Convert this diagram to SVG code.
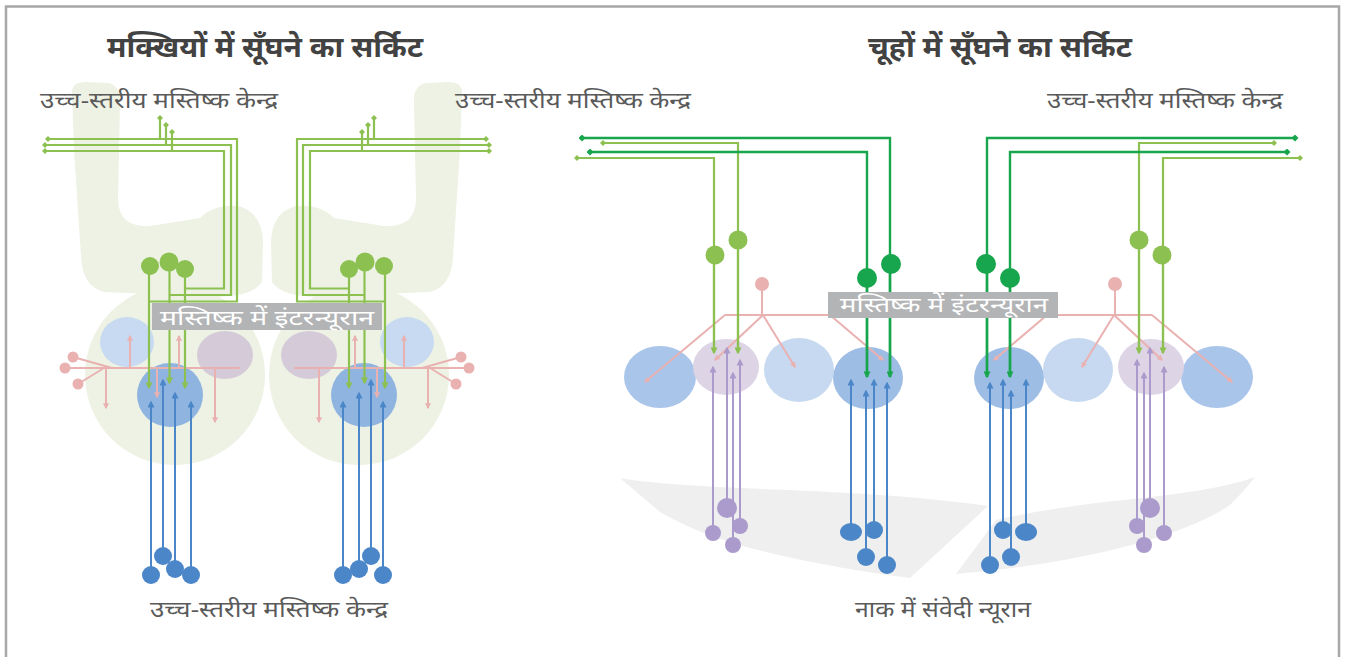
<svg xmlns="http://www.w3.org/2000/svg" xmlns:xlink="http://www.w3.org/1999/xlink" width="1345" height="657" viewBox="0 0 1345 657">
  <style>
    .txt { font-family: "Noto Sans", "DejaVu Sans", sans-serif; fill: #5a5a5a; }
    .lbl { font-size: 22px; }
    .ttl { font-size: 28px; font-weight: bold; fill: #424242; }
    .boxt { font-size: 21px; fill: #ffffff; }
    .box { fill: #b3b4b6; }
    .lg { stroke: #8cc152; stroke-width: 2.2; fill: none; }
    .dg { stroke: #17a64d; stroke-width: 2.4; fill: none; }
    .bl { stroke: #4a86c8; stroke-width: 2; fill: none; }
    .pu { stroke: #ab9bcc; stroke-width: 2; fill: none; }
    .pk { stroke: #eab1b1; stroke-width: 2; fill: none; }
    .lgf { fill: #8cc152; }
    .dgf { fill: #17a64d; }
    .blf { fill: #4a86c8; }
    .puf { fill: #ab9bcc; }
    .pkf { fill: #eab1b1; }
    .pale { fill: #edf2e4; }
    .epi { fill: #efefef; }
  </style>
  <defs>
    <marker id="aLG" viewBox="0 0 10 10" refX="8" refY="5" markerWidth="7" markerHeight="7" markerUnits="userSpaceOnUse" orient="auto"><path d="M0,0 L10,5 L0,10 Z" fill="#8cc152"/></marker>
    <marker id="aDG" viewBox="0 0 10 10" refX="8" refY="5" markerWidth="7" markerHeight="7" markerUnits="userSpaceOnUse" orient="auto"><path d="M0,0 L10,5 L0,10 Z" fill="#17a64d"/></marker>
    <marker id="aBL" viewBox="0 0 10 10" refX="8" refY="5" markerWidth="7" markerHeight="7" markerUnits="userSpaceOnUse" orient="auto"><path d="M0,0 L10,5 L0,10 Z" fill="#4a86c8"/></marker>
    <marker id="aPU" viewBox="0 0 10 10" refX="8" refY="5" markerWidth="7" markerHeight="7" markerUnits="userSpaceOnUse" orient="auto"><path d="M0,0 L10,5 L0,10 Z" fill="#ab9bcc"/></marker>
    <marker id="aPK" viewBox="0 0 10 10" refX="8" refY="5" markerWidth="6" markerHeight="6" markerUnits="userSpaceOnUse" orient="auto"><path d="M0,0 L10,5 L0,10 Z" fill="#eab1b1"/></marker>
    <marker id="dLG" viewBox="0 0 10 10" refX="5" refY="5" markerWidth="6" markerHeight="6" markerUnits="userSpaceOnUse" orient="auto"><path d="M0,5 L5,0 L10,5 L5,10 Z" fill="#8cc152"/></marker>
    <marker id="dDG" viewBox="0 0 10 10" refX="5" refY="5" markerWidth="7" markerHeight="7" markerUnits="userSpaceOnUse" orient="auto"><path d="M0,5 L5,0 L10,5 L5,10 Z" fill="#17a64d"/></marker>
  </defs>

  <!-- outer frame -->
  <rect x="6" y="6.5" width="1333" height="680" fill="none" stroke="#a7a7a7" stroke-width="2.5"/>

  <!-- ============ fly circuit: one half, mirrored for the other ============ -->
  <g id="fly-half">
    <path class="pale" d="M72,92 Q72,82 86,82 L108,83 Q121,86 120,102 L118,200 Q119,228 150,226 L200,218 Q214,204 238,206 Q262,212 263,242 L262,282 Q250,300 200,296 L104,292 Q82,286 81,256 L74,150 Z"/>
    <circle class="pale" cx="175" cy="375" r="90"/>
    <ellipse cx="127" cy="342" rx="27" ry="25" fill="#c7daf1"/>
    <ellipse cx="225" cy="355" rx="28" ry="24" fill="#d5cad8"/>
    <ellipse cx="170" cy="395" rx="33" ry="32" fill="#8fb4e0"/>
    <!-- local interneuron -->
    <g id="fly-ln">
      <circle class="pkf" cx="73" cy="357" r="5.5"/>
      <circle class="pkf" cx="65" cy="368" r="5.5"/>
      <circle class="pkf" cx="78" cy="384" r="5.5"/>
      <path class="pk" d="M73,357 L112,368 M78,384 L104,368 M65,368 H240"/>
      <path class="pk" d="M106,368 V408" marker-end="url(#aPK)"/>
      <path class="pk" d="M130,368 V336" marker-end="url(#aPK)"/>
      <path class="pk" d="M157,368 V397" marker-end="url(#aPK)"/>
      <path class="pk" d="M179,368 V336" marker-end="url(#aPK)"/>
      <path class="pk" d="M215,368 V422" marker-end="url(#aPK)"/>
    </g>
    <!-- projection neurons -->
    <g id="fly-pn">
      <path class="lg" d="M149,301.5 H237 V139 H48" marker-end="url(#dLG)"/>
      <path class="lg" d="M169.5,295 H231 V145 H45" marker-end="url(#dLG)"/>
      <path class="lg" d="M185,288.5 H224 V151 H45" marker-end="url(#dLG)"/>
      <path class="lg" d="M160,139 V118" marker-end="url(#dLG)"/>
      <path class="lg" d="M166,145 V125" marker-end="url(#dLG)"/>
      <path class="lg" d="M172,151 V132" marker-end="url(#dLG)"/>
      <path class="lg" d="M149,266 V388" marker-end="url(#aLG)"/>
      <path class="lg" d="M169.5,262 V383" marker-end="url(#aLG)"/>
      <path class="lg" d="M185,269 V388" marker-end="url(#aLG)"/>
      <circle class="lgf" cx="150" cy="266" r="9"/>
      <circle class="lgf" cx="169" cy="262" r="9.5"/>
      <circle class="lgf" cx="185" cy="269" r="9"/>
    </g>
    <!-- sensory neurons -->
    <g id="fly-osn">
      <path class="bl" d="M151,575 V402" marker-end="url(#aBL)"/>
      <path class="bl" d="M163,556 V380" marker-end="url(#aBL)"/>
      <path class="bl" d="M175,569 V393" marker-end="url(#aBL)"/>
      <path class="bl" d="M191,575 V402" marker-end="url(#aBL)"/>
      <circle class="blf" cx="151" cy="575" r="9"/>
      <circle class="blf" cx="163" cy="556" r="9"/>
      <circle class="blf" cx="175" cy="569" r="9"/>
      <circle class="blf" cx="191" cy="575" r="9"/>
    </g>
  </g>
  <use id="fly-half-mirror" xlink:href="#fly-half" transform="matrix(-1 0 0 1 534 0)"/>

  <g id="fly-box">
    <rect class="box" x="152" y="303" width="230" height="27"/>
    <text class="txt boxt" x="160" y="325" textLength="214" lengthAdjust="spacingAndGlyphs">मस्तिष्क में इंटरन्यूरान</text>
  </g>

  <!-- ============ mouse circuit ============ -->
  <g id="mouse-epithelium">
    <path class="epi" d="M620,478 C700,492 850,486 988,506 L910,578 C820,566 720,548 660,512 Q640,495 620,478 Z"/>
    <path class="epi" d="M1255,477 C1190,500 1100,496 996,520 L956,574 C1060,566 1180,540 1230,505 Q1245,490 1255,477 Z"/>
  </g>

  <g id="mouse-half">
    <ellipse cx="660" cy="377" rx="36" ry="31" fill="#a9c5ea"/>
    <ellipse cx="726" cy="367" rx="33" ry="28" fill="#ddd4e5"/>
    <ellipse cx="799" cy="370" rx="35" ry="32" fill="#c6d9f0"/>
    <ellipse cx="868" cy="378" rx="35" ry="31" fill="#9ebde5"/>
    <g id="mouse-ln">
      <circle class="pkf" cx="762" cy="284" r="7"/>
      <path class="pk" d="M762,290 V315 M725,315 H840"/>
      <path class="pk" d="M725,315 L645,382" marker-end="url(#aPK)"/>
      <path class="pk" d="M763,315 L715,360" marker-end="url(#aPK)"/>
      <path class="pk" d="M763,315 L795,367" marker-end="url(#aPK)"/>
      <path class="pk" d="M830,315 L883,360" marker-end="url(#aPK)"/>
    </g>
    <g id="mouse-mitral">
      <path class="lg" d="M714,353 V158 H577" marker-end="url(#dLG)"/>
      <path class="lg" d="M738,353 V143 H603" marker-end="url(#dLG)"/>
      <path class="lg" d="M714,260 V353" marker-end="url(#aLG)"/>
      <path class="lg" d="M738,245 V353" marker-end="url(#aLG)"/>
      <circle class="lgf" cx="715" cy="255" r="9.5"/>
      <circle class="lgf" cx="738" cy="240" r="9.5"/>
      <path class="dg" d="M867,377 V152 H590" marker-end="url(#dDG)"/>
      <path class="dg" d="M890,377 V138 H582" marker-end="url(#dDG)"/>
      <path class="dg" d="M867,285 V377" marker-end="url(#aDG)"/>
      <path class="dg" d="M890,270 V377" marker-end="url(#aDG)"/>
      <circle class="dgf" cx="867" cy="278" r="10"/>
      <circle class="dgf" cx="891" cy="264" r="10"/>
    </g>
    <g id="mouse-osn">
      <path class="pu" d="M713,533 V367" marker-end="url(#aPU)"/>
      <path class="pu" d="M727,508 V348" marker-end="url(#aPU)"/>
      <path class="pu" d="M733,545 V373" marker-end="url(#aPU)"/>
      <path class="pu" d="M740,526 V360" marker-end="url(#aPU)"/>
      <circle class="puf" cx="727" cy="508" r="10"/>
      <circle class="puf" cx="740" cy="526" r="8"/>
      <circle class="puf" cx="713" cy="533" r="8"/>
      <circle class="puf" cx="733" cy="545" r="8"/>
      <path class="bl" d="M851,532 V380" marker-end="url(#aBL)"/>
      <path class="bl" d="M866,557 V391" marker-end="url(#aBL)"/>
      <path class="bl" d="M874,530 V380" marker-end="url(#aBL)"/>
      <path class="bl" d="M887,565 V383" marker-end="url(#aBL)"/>
      <ellipse class="blf" cx="851" cy="532" rx="11" ry="9"/>
      <circle class="blf" cx="874" cy="530" r="9"/>
      <circle class="blf" cx="866" cy="557" r="9"/>
      <circle class="blf" cx="887" cy="565" r="9"/>
    </g>
  </g>
  <use id="mouse-half-mirror" xlink:href="#mouse-half" transform="matrix(-1 0 0 1 1877 0)"/>

  <g id="mouse-box">
    <rect class="box" x="828" y="292" width="230" height="26"/>
    <text class="txt boxt" x="840" y="312" textLength="208" lengthAdjust="spacingAndGlyphs">मस्तिष्क में इंटरन्यूरान</text>
  </g>

  <!-- ============ titles and labels ============ -->
  <g id="labels">
    <text class="txt ttl" x="107" y="57" textLength="316" lengthAdjust="spacingAndGlyphs">मक्खियों में सूँघने का सर्किट</text>
    <text class="txt ttl" x="868" y="57" textLength="264" lengthAdjust="spacingAndGlyphs">चूहों में सूँघने का सर्किट</text>
    <text class="txt lbl" x="40" y="108" textLength="238" lengthAdjust="spacingAndGlyphs">उच्च-स्तरीय मस्तिष्क केन्द्र</text>
    <text class="txt lbl" x="455" y="108" textLength="236" lengthAdjust="spacingAndGlyphs">उच्च-स्तरीय मस्तिष्क केन्द्र</text>
    <text class="txt lbl" x="1047" y="108" textLength="236" lengthAdjust="spacingAndGlyphs">उच्च-स्तरीय मस्तिष्क केन्द्र</text>
    <text class="txt lbl" x="150" y="617" textLength="238" lengthAdjust="spacingAndGlyphs">उच्च-स्तरीय मस्तिष्क केन्द्र</text>
    <text class="txt lbl" x="855" y="617" textLength="176" lengthAdjust="spacingAndGlyphs">नाक में संवेदी न्यूरान</text>
  </g>
</svg>
